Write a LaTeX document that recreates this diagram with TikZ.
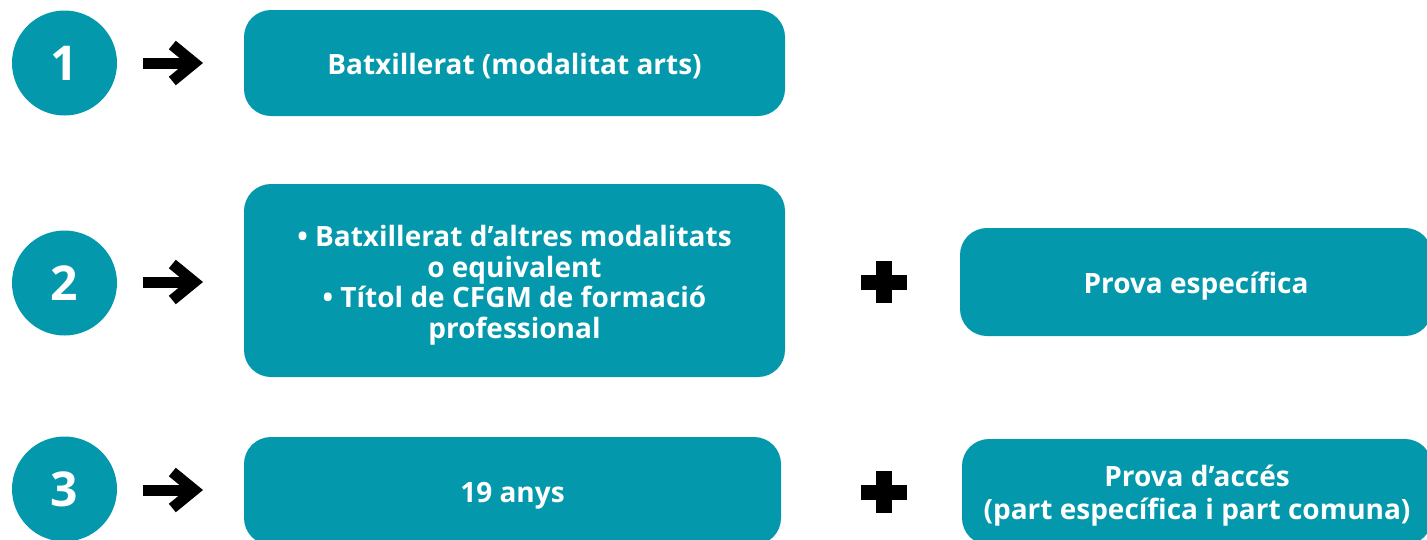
\documentclass[tikz,border=0pt]{standalone}
\usepackage{fontspec}
\setmainfont{Open Sans}
\usetikzlibrary{arrows.meta}
\definecolor{teal}{RGB}{3,152,172}
\newcommand{\firstline}[1]{\rule{0pt}{#1}}
\newcommand{\lastline}{\rule[-7pt]{0pt}{7pt}}
\tikzset{
  circ/.style={shape=circle, fill=teal, text=white, inner sep=0pt, minimum size=105pt, font=\bfseries\fontsize{48}{50}\selectfont},
  box/.style={rectangle, rounded corners=27pt, fill=teal, text=white, align=center, inner sep=0pt, font=\bfseries\fontsize{28}{30.5}\selectfont},
  onebox/.style={box, text height=27pt, text depth=4pt},
  goesto/.style={line width=11pt, -{Straight Barb[length=22pt, width=36pt, line join=miter]}},
  plussign/.style={minimum width=46pt, minimum height=42pt, inner sep=0pt,
    path picture={\fill[black] ([yshift=-7.5pt]path picture bounding box.west) rectangle ([yshift=7.5pt]path picture bounding box.east);
                  \fill[black] ([xshift=-8pt]path picture bounding box.south) rectangle ([xshift=8pt]path picture bounding box.north);}}
}
\begin{document}
\begin{tikzpicture}[x=1pt,y=-1pt]
    \useasboundingbox (0,0) rectangle (1427,539);
	    \node[circ] (C1) at (64.5,63) {1};
	    \node[circ] (C2) at (64.5,283) {2};
	    \node[circ] (C3) at (64.5,489) {3};

	    \node[onebox, minimum width=541pt, minimum height=106pt] (B1) at (514.5,63) {Batxillerat (modalitat arts)};
	    \node[box, minimum width=541pt, minimum height=193pt] (B2) at (514.5,280.5) {\firstline{31pt}• Batxillerat d’altres modalitats\\o equivalent\\• Títol de CFGM de formació\\professional\lastline};
	    \node[onebox, minimum width=537pt, minimum height=108pt] (B3) at (512.5,491) {19 anys};

	    \node[plussign] (P2) at (884,282) {};
	    \node[plussign] (P3) at (884,492) {};

	    \node[onebox, minimum width=472pt, minimum height=108pt] (R2) at (1196,282) {Prova específica};
	    \node[box, minimum width=470pt, minimum height=106pt, font=\bfseries\fontsize{28}{33.3}\selectfont] (R3) at (1197,492) {\firstline{29.5pt}Prova d’accés\\(part específica i part comuna)\lastline};

	    \coordinate (A1s) at (143,63);
	    \coordinate (A1e) at (203,63);
	    \coordinate (A2s) at (143,282);
	    \coordinate (A2e) at (203,282);
	    \coordinate (A3s) at (143,490);
	    \coordinate (A3e) at (203,490);

	    \draw[goesto] (A1s)--(A1e);
	    \draw[goesto] (A2s)--(A2e);
	    \draw[goesto] (A3s)--(A3e);
\end{tikzpicture}
\end{document}
